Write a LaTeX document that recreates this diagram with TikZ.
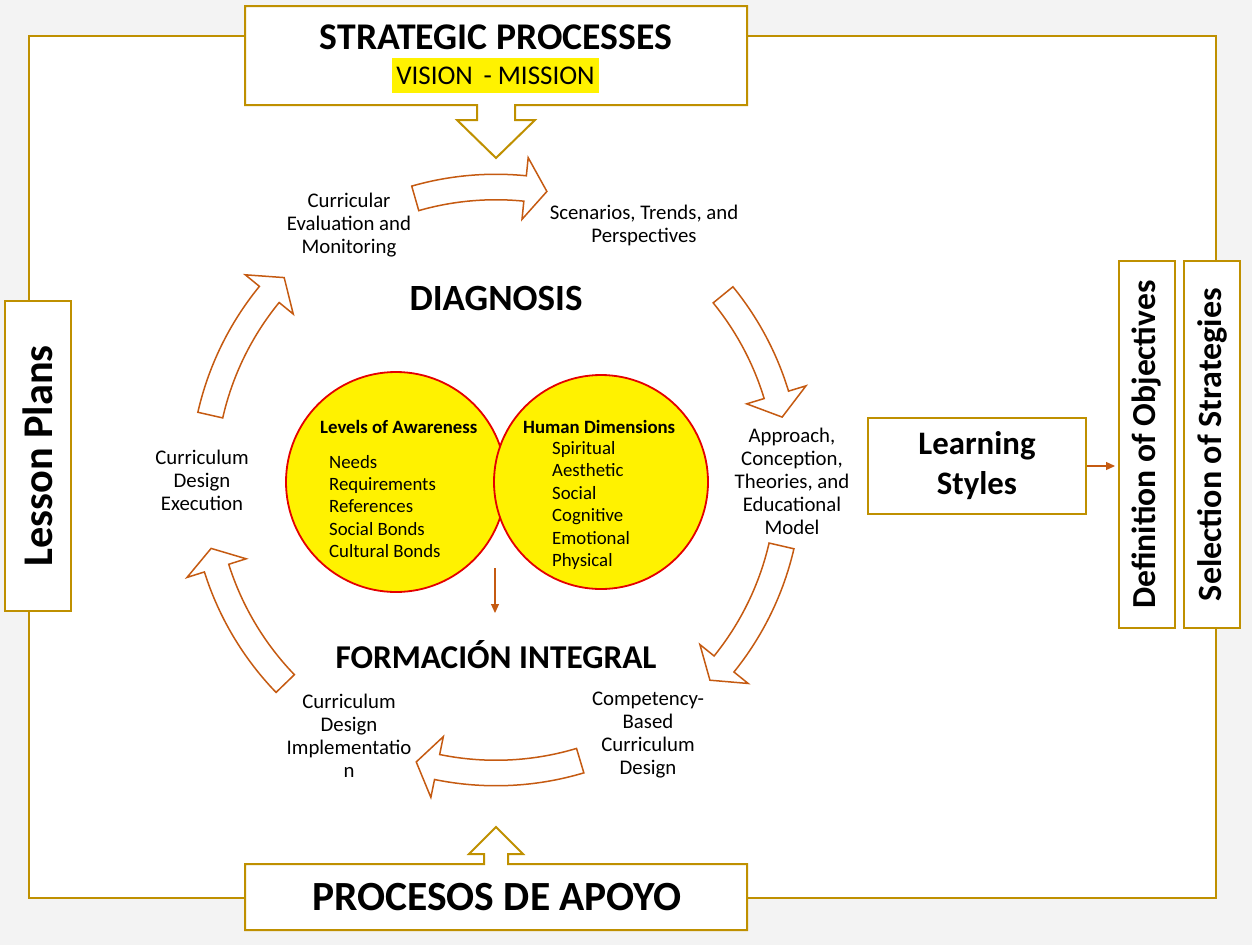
\documentclass[tikz,border=0pt]{standalone}
\usepackage{fontspec}
\setmainfont{Carlito}
\usetikzlibrary{arrows.meta,calc}
\definecolor{gold}{RGB}{191,144,0}
\definecolor{arr}{RGB}{197,90,17}
\definecolor{bgc}{RGB}{243,243,243}
\definecolor{ring}{RGB}{228,0,0}
\newcommand{\fsz}[2]{\fontsize{#1}{#2}\selectfont}
% curved block arrow around the cycle centre: tail angle, head-base angle, tip angle
\newcommand{\cycarrow}[3]{%
  \draw[cyc] (#1:305.75pt) arc[start angle=#1, end angle=#2, radius=305.75pt]
    -- (#2:324pt) -- (#3:293pt) -- (#2:262pt) -- (#2:280.25pt)
    arc[start angle=#2, end angle=#1, radius=280.25pt] -- cycle;}
\begin{document}
\begin{tikzpicture}[x=1pt,y=1pt,
  goldline/.style={draw=gold, line width=2pt},
  gbox/.style={goldline, fill=white, inner sep=0pt},
  cyc/.style={draw=arr, line width=1.5pt, fill=white, line join=miter},
  lbl/.style={font=\fsz{20.8}{23}, align=center, inner sep=0pt},
  ring/.style={circle, draw=ring, line width=1.8pt, fill=yellow, inner sep=0pt},
  big/.style={font=\bfseries\fsz{37}{42}, inner sep=0pt},
  ctext/.style={font=\fsz{18.8}{22.4}, align=left, inner sep=0pt, anchor=west},
  chead/.style={font=\bfseries\fsz{18.8}{22}, inner sep=0pt, anchor=west},
  sarrow/.style={draw=arr, line width=1.2pt, -{Triangle[length=9pt,width=8pt]}}
]
\useasboundingbox (0,0) rectangle (1252,-945);
\fill[bgc] (0,0) rectangle (1252,-945);
% outer frame
\draw[goldline, fill=white] (29,-36) rectangle (1216,-898);

% top callout
\draw[goldline, fill=white] (245,-6) -- (747,-6) -- (747,-105) -- (515,-105) -- (515,-120)
  -- (535,-120) -- (496,-158) -- (457,-120) -- (477,-120) -- (477,-105) -- (245,-105) -- cycle;
\node[font=\bfseries\fsz{37.7}{44}, inner sep=0pt] (sp) at (496,-37) {STRATEGIC PROCESSES};
\node[fill=yellow, font=\fsz{27}{32}, inner sep=0pt, minimum width=207pt, minimum height=35pt] (vm) at (495.5,-75.5) {VISION\, - MISSION};

% bottom callout
\draw[goldline, fill=white] (245,-864) -- (484,-864) -- (484,-854) -- (469,-854) -- (496,-827)
  -- (523,-854) -- (508,-854) -- (508,-864) -- (747,-864) -- (747,-930) -- (245,-930) -- cycle;
\node[font=\bfseries\fsz{41.5}{48}, inner sep=0pt] (pa) at (497,-897) {PROCESOS DE APOYO};

% side boxes
\node[gbox, minimum width=310pt, minimum height=66pt, rotate=90, font=\bfseries\fsz{42.3}{48}] (lp) at (38,-456) {Lesson Plans};
\node[gbox, minimum width=367pt, minimum height=56pt, rotate=90, font=\bfseries\fsz{33.6}{40}] (def) at (1147,-444.5) {Definition of Objectives};
\node[gbox, minimum width=367pt, minimum height=56pt, rotate=90, font=\bfseries\fsz{34}{40}] (sel) at (1212,-444.5) {Selection of Strategies};
\node[gbox, minimum width=218pt, minimum height=96pt, align=center, font=\bfseries\fsz{32.8}{40}] (ls) at (977,-466) {Learning\\Styles};
\draw[sarrow] (ls.east) -- ([xshift=-3pt]def.north|-ls.east);

% circles
\node[ring, minimum size=220pt] (c1) at (396,-482) {};
\node[ring, minimum size=214pt] (c2) at (601,-482) {};
\node[chead] (h1) at (320,-427) {Levels of Awareness};
\node[ctext] (t1) at (329,-506.5) {Needs\\Requirements\\References\\Social Bonds\\Cultural Bonds};
\node[chead] (h2) at (523,-427) {Human Dimensions};
\node[ctext] (t2) at (552,-505.5) {Spiritual\\Aesthetic\\Social\\Cognitive\\Emotional\\Physical};
\coordinate (ia) at (495,-568);
\coordinate (ib) at (495,-613);
\draw[sarrow] (ia) -- (ib);

% titles
\node[big] (dg) at (496,-298) {DIAGNOSIS};
\node[big, font=\bfseries\fsz{33.3}{38}] (fi) at (496,-655) {FORMACIÓN INTEGRAL};

% cycle labels
\node[lbl] (l1) at (349,-225) {Curricular\\Evaluation and\\Monitoring};
\node[lbl] (l2) at (644,-225) {Scenarios, Trends, and\\Perspectives};
\node[lbl] (l3) at (792,-481) {Approach,\\Conception,\\Theories, and\\Educational\\Model};
\node[lbl] (l4) at (648,-735.5) {Competency-\\Based\\Curriculum\\Design};
\node[lbl] (l5) at (349,-735.5) {Curriculum\\Design\\Implementatio\\n};
\node[lbl] (l6) at (202,-480) {Curriculum\\Design\\Execution};

% curved block arrows
\begin{scope}[shift={(496,-480)}]
\cycarrow{106.0}{84.3}{80.0}
\cycarrow{39.2}{16.9}{12.4}
\cycarrow{-13.0}{-38.9}{-43.1}
\cycarrow{-73.3}{-101.6}{-105.8}
\cycarrow{-136.0}{-162.5}{-166.5}
\cycarrow{167.2}{140.7}{136.3}
\end{scope}
\end{tikzpicture}
\end{document}
